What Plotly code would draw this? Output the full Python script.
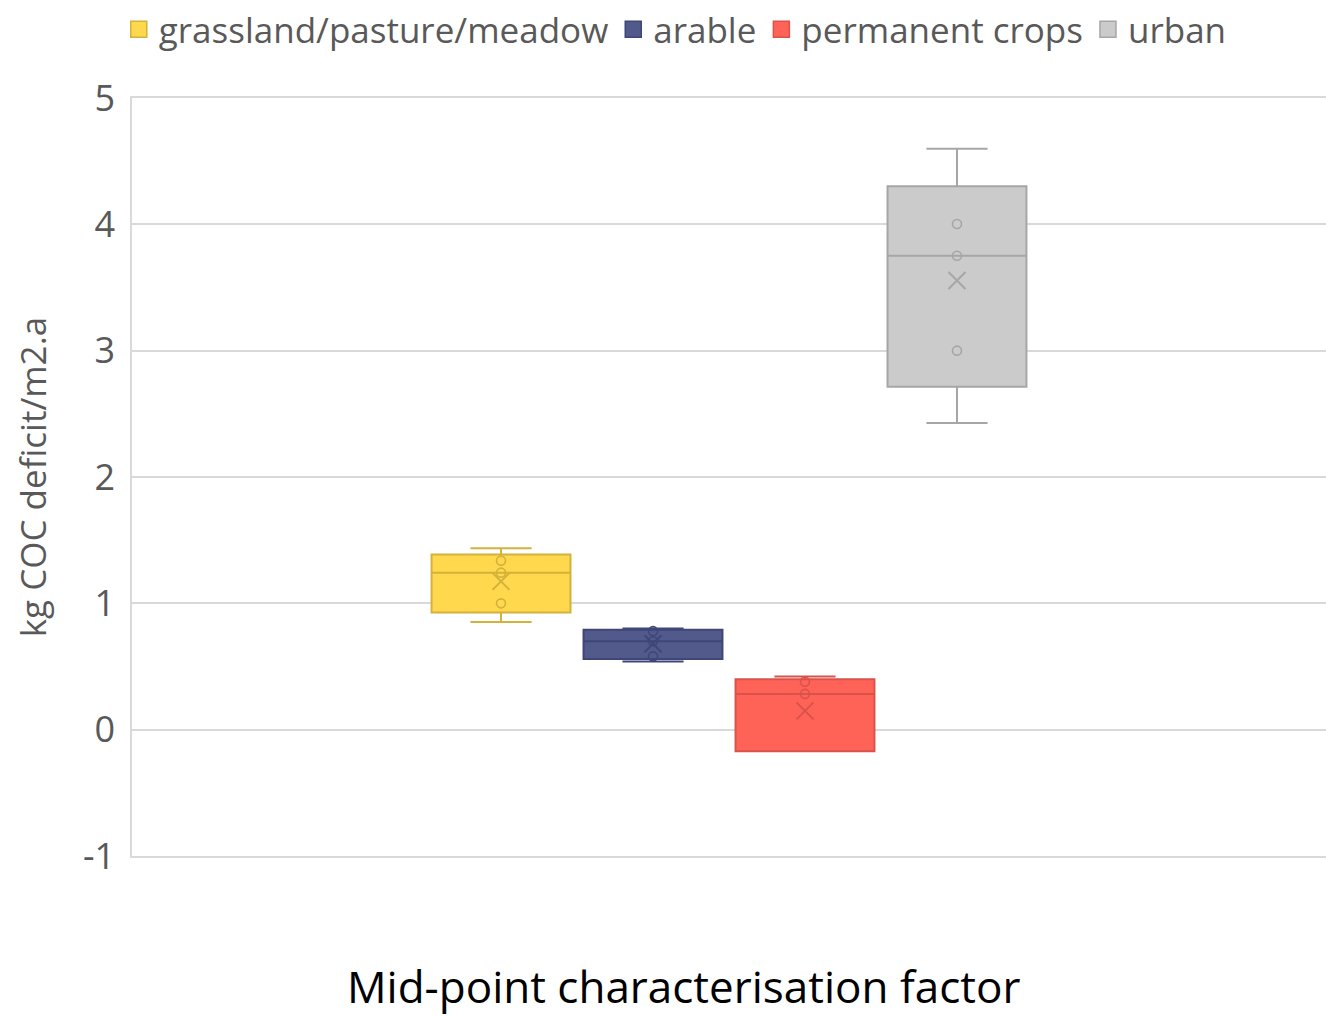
import numpy as np
import plotly.graph_objects as go

# Land-use categories and their mid-point characterisation factors
categories = ["grassland/pasture/meadow", "arable", "permanent crops", "urban"]
grassland = [0.853, 1.0, 1.243, 1.338, 1.436]
arable = [0.54, 0.58, 0.70, 0.78, 0.80]
permanent_crops = [-0.17, -0.17, 0.283, 0.38, 0.42]
urban = [2.428, 3.0, 3.751, 4.003, 4.598]

# y-axis ticks (plain hyphen for the negative label)
tick_values = [-1, 0, 1, 2, 3, 4, 5]
tick_labels = ["-1", "0", "1", "2", "3", "4", "5"]

fills = ["#FFD84E", "#525A8C", "#FF6358", "#CBCBCB"]
edges = ["#D2B23A", "#3F4678", "#D9534B", "#A6A6A6"]

series = [grassland, arable, permanent_crops, urban]
positions = [-1.5, -0.5, 0.5, 1.5]

FONT = "Open Sans"
GREY = "#595959"

fig = go.Figure()

for name, vals, pos, fc, ec in zip(categories, series, positions, fills, edges):
    vals = np.array(vals)
    # box with whiskers (exclusive quartiles, whiskers at min/max)
    fig.add_trace(go.Box(
        y=vals, x=[pos] * len(vals), name=name, width=0.914,
        quartilemethod="exclusive", boxpoints=False, whiskerwidth=0.44,
        fillcolor=fc, line=dict(color=ec, width=2),
        showlegend=False, hoverinfo="skip",
    ))
    # inner points
    inner = np.unique(vals[(vals > vals.min()) & (vals < vals.max())])
    fig.add_trace(go.Scatter(
        x=[pos] * len(inner), y=inner, mode="markers", showlegend=False,
        marker=dict(symbol="circle-open", size=9, color=ec, line=dict(width=1.6, color=ec)),
        hoverinfo="skip",
    ))
    # mean marker
    fig.add_trace(go.Scatter(
        x=[pos], y=[vals.mean()], mode="markers", showlegend=False,
        marker=dict(symbol="x-thin-open", size=17, color=ec, line=dict(width=2, color=ec)),
        hoverinfo="skip",
    ))
    # legend swatch
    fig.add_trace(go.Scatter(
        x=[None], y=[None], mode="markers", name=name,
        marker=dict(symbol="square", size=16, color=fc, line=dict(width=1.5, color=ec)),
    ))

fig.update_layout(
    width=1326, height=1016,
    margin=dict(l=132, r=0, t=98, b=160),
    paper_bgcolor="white", plot_bgcolor="white",
    font=dict(family=FONT, color=GREY),
    showlegend=True,
    legend=dict(
        orientation="h", x=0.455, xanchor="center", y=1, yanchor="top",
        yref="container",
        font=dict(size=35, color=GREY, family=FONT),
        itemsizing="trace", tracegroupgap=0,
    ),
    xaxis=dict(
        range=[-3.928, 3.928], showticklabels=False, showgrid=False,
        zeroline=False, showline=True, mirror=True, linecolor="#D9D9D9", linewidth=1.5,
        ticks="", automargin=False,
    ),
    yaxis=dict(
        range=[-1, 5], tickvals=tick_values, ticktext=tick_labels,
        showgrid=True, gridcolor="#D9D9D9", gridwidth=1.5,
        zeroline=False, showline=True, linecolor="#D9D9D9", linewidth=1.5,
        ticks="", ticklabelstandoff=8,
        tickfont=dict(size=36, color=GREY, family=FONT),
        title=dict(text="kg COC deficit/m2.a", font=dict(size=35, color=GREY, family=FONT),
                   standoff=26),
        automargin=False,
    ),
    annotations=[dict(
        text="Mid-point characterisation factor", showarrow=False,
        xref="paper", yref="paper", x=0.4615, y=-0.171,
        xanchor="center", yanchor="middle",
        font=dict(size=44, color="#000000", family=FONT),
    )],
)

fig.write_html("out.html")
